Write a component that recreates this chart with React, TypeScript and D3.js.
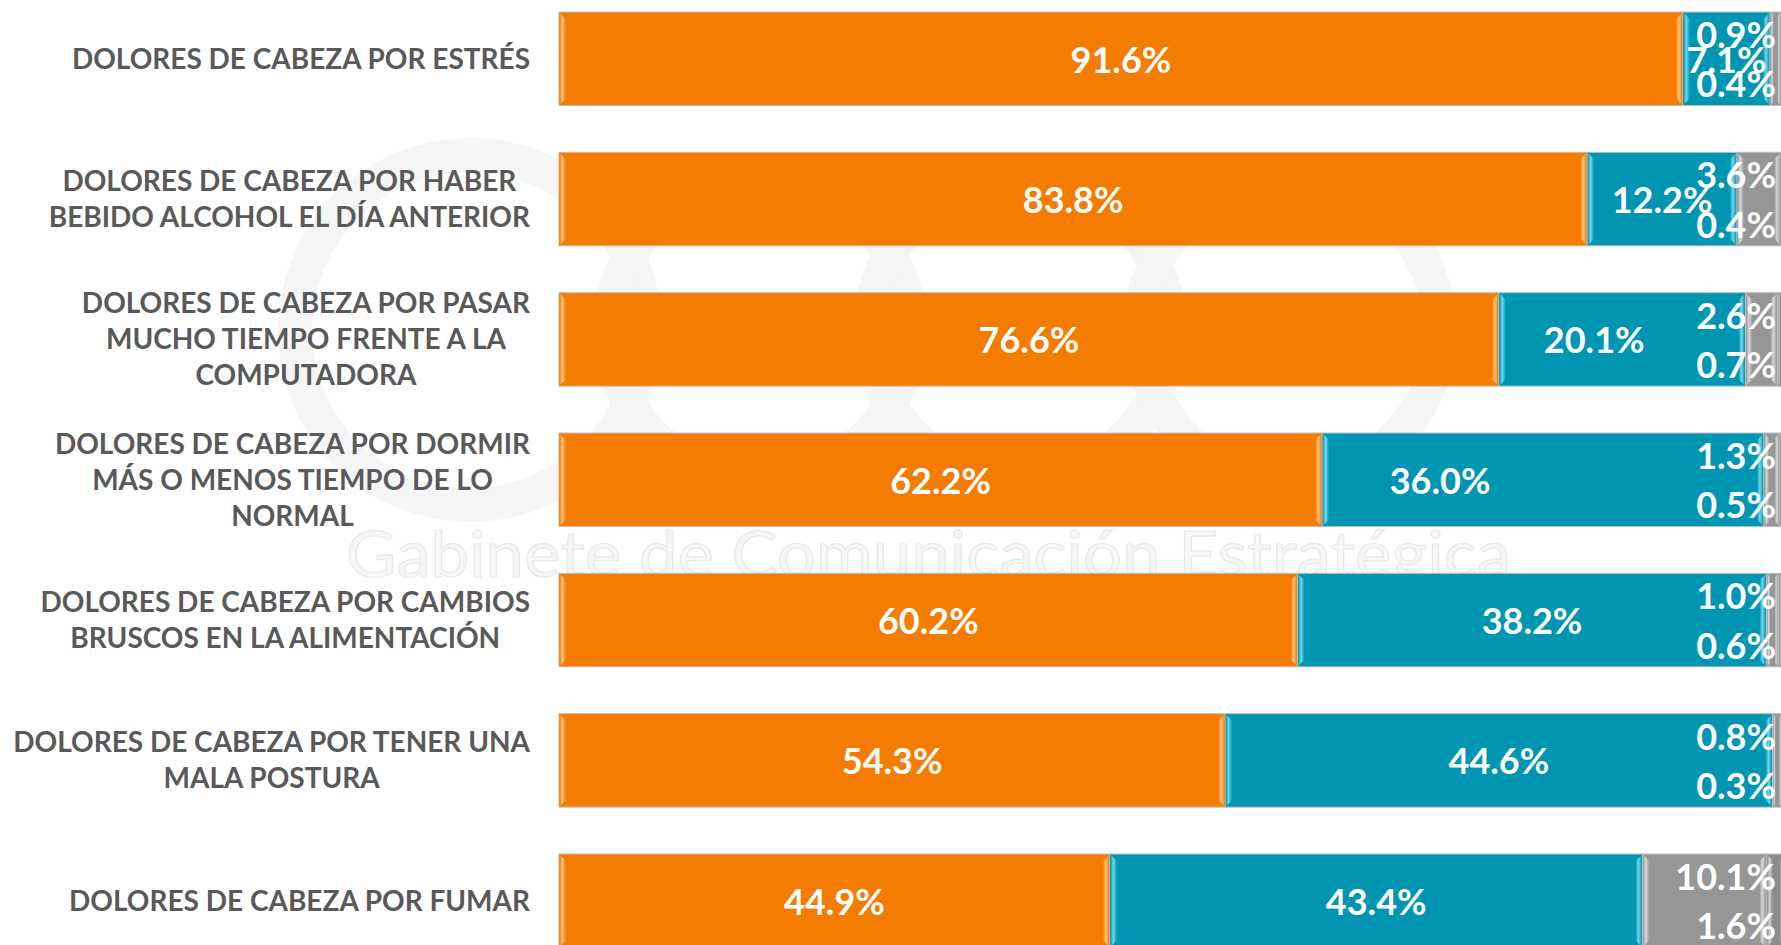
import React, { useEffect, useRef } from "react";
import * as d3 from "d3";

const categoryLines: string[][] = [
  ["DOLORES DE CABEZA POR ESTRÉS"],
  ["DOLORES DE CABEZA POR HABER", "BEBIDO ALCOHOL EL DÍA ANTERIOR"],
  ["DOLORES DE CABEZA POR PASAR", "MUCHO TIEMPO FRENTE A LA", "COMPUTADORA"],
  ["DOLORES DE CABEZA POR DORMIR", "MÁS O MENOS TIEMPO DE LO", "NORMAL"],
  ["DOLORES DE CABEZA POR CAMBIOS", "BRUSCOS EN LA ALIMENTACIÓN"],
  ["DOLORES DE CABEZA POR TENER UNA", "MALA POSTURA"],
  ["DOLORES DE CABEZA POR FUMAR"],
];
const orangeValues = [91.6, 83.8, 76.6, 62.2, 60.2, 54.3, 44.9];
const tealValues = [7.1, 12.2, 20.1, 36.0, 38.2, 44.6, 43.4];
const grayValues = [0.9, 3.6, 2.6, 1.3, 1.0, 0.8, 10.1];
const darkValues = [0.4, 0.4, 0.7, 0.5, 0.6, 0.3, 1.6];
const seriesKeys = ["orange", "teal", "gray", "dark"];
const watermarkText = "Gabinete de Comunicación Estratégica";

const W = 1781;
const H = 945;
const colors: Record<string, { base: string; light: string }> = {
  orange: { base: "#F47C00", light: "#FFC27A" },
  teal: { base: "#0095B1", light: "#6FD6EE" },
  gray: { base: "#969696", light: "#D6D6D6" },
  dark: { base: "#8C8C8C", light: "#CFCFCF" },
};
// manual label nudges (as in the original layout)
const tealNudge: Record<number, number> = { 2: -28, 3: -103 };

export default function App() {
  const ref = useRef<SVGSVGElement | null>(null);

  useEffect(() => {
    const svg = d3.select(ref.current);
    svg.selectAll("*").remove();

    const rows = categoryLines.map((lines, i) => ({
      key: String(i),
      orange: orangeValues[i],
      teal: tealValues[i],
      gray: grayValues[i],
      dark: darkValues[i],
    }));

    const x = d3.scaleLinear().domain([0, 100]).range([559, 1786]);
    const y = d3
      .scaleBand<string>()
      .domain(rows.map((r) => r.key))
      .range([-11.4, 970.9])
      .paddingInner(0.334)
      .paddingOuter(0.167);

    const defs = svg.append("defs");
    seriesKeys.forEach((k) => {
      const gL = defs.append("linearGradient").attr("id", `bl-${k}`).attr("x1", "0").attr("x2", "1");
      gL.append("stop").attr("offset", "0").attr("stop-color", colors[k].base);
      gL.append("stop").attr("offset", "0.45").attr("stop-color", colors[k].light);
      gL.append("stop").attr("offset", "1").attr("stop-color", colors[k].base);
    });

    // watermark
    const wm = svg.append("g");
    [
      [470, 330, 175],
      [760, 330, 150],
      [1020, 330, 150],
      [1290, 330, 150],
    ].forEach(([cx, cy, r]) => {
      wm.append("circle")
        .attr("cx", cx)
        .attr("cy", cy)
        .attr("r", r)
        .attr("fill", "none")
        .attr("stroke", "#f5f5f5")
        .attr("stroke-width", 34);
    });
    wm.append("text")
      .attr("x", 346)
      .attr("y", 577)
      .attr("textLength", 1165)
      .attr("lengthAdjust", "spacingAndGlyphs")
      .attr("font-family", "Lato, 'Open Sans', sans-serif")
      .attr("font-size", 64)
      .attr("fill", "#f7f7f7")
      .attr("stroke", "#e8e8e8")
      .attr("stroke-width", 1.2)
      .text(watermarkText);

    const stack = d3.stack<any>().keys(seriesKeys);
    const series = stack(rows);

    const bars = svg.append("g");
    series.forEach((s) => {
      const k = s.key;
      s.forEach((d, i) => {
        const x0 = x(d[0]);
        const x1 = x(d[1]);
        const top = y(String(i))!;
        const h = y.bandwidth();
        const w = x1 - x0;
        const g = bars.append("g");
        g.append("rect")
          .attr("x", x0)
          .attr("y", top)
          .attr("width", w)
          .attr("height", h)
          .attr("fill", colors[k].base)
          .attr("stroke", "#bdbdbd")
          .attr("stroke-width", 1);
        const b = Math.max(1.5, Math.min(7, w / 3));
        g.append("path")
          .attr(
            "d",
            `M${x0 + 0.5},${top + 0.5} L${x0 + b},${top + b} L${x0 + b},${top + h - b} L${x0 + 0.5},${top + h - 0.5} Z`
          )
          .attr("fill", `url(#bl-${k})`);
        g.append("path")
          .attr(
            "d",
            `M${x1 - 0.5},${top + 0.5} L${x1 - b},${top + b} L${x1 - b},${top + h - b} L${x1 - 0.5},${top + h - 0.5} Z`
          )
          .attr("fill", `url(#bl-${k})`);
      });
    });

    const fmt = (v: number) => v.toFixed(1) + "%";
    const labelFont = "Lato, 'Open Sans', sans-serif";
    const labels = svg
      .append("g")
      .attr("font-family", labelFont)
      .attr("font-weight", 700)
      .attr("font-size", 36)
      .attr("fill", "#ffffff");

    rows.forEach((r, i) => {
      const top = y(r.key)!;
      const h = y.bandwidth();
      const cy = top + h / 2;
      labels.append("text")
        .attr("x", x(r.orange / 2))
        .attr("y", cy + 14)
        .attr("text-anchor", "middle")
        .text(fmt(r.orange));
      labels.append("text")
        .attr("x", x(r.orange + r.teal / 2) + (tealNudge[i] || 0))
        .attr("y", cy + 14)
        .attr("text-anchor", "middle")
        .text(fmt(r.teal));
      labels.append("text")
        .attr("x", 1776)
        .attr("y", top + 36)
        .attr("text-anchor", "end")
        .text(fmt(r.gray));
      labels.append("text")
        .attr("x", 1776)
        .attr("y", top + h - 8)
        .attr("text-anchor", "end")
        .text(fmt(r.dark));
    });

    const cat = svg
      .append("g")
      .attr("font-family", labelFont)
      .attr("font-weight", 700)
      .attr("font-size", 28)
      .attr("fill", "#595959");
    categoryLines.forEach((lines, i) => {
      const cy = y(String(i))! + y.bandwidth() / 2;
      const lh = 36;
      const g = cat.append("g");
      const texts = lines.map((ln, j) =>
        g.append("text")
          .attr("y", cy + (j - (lines.length - 1) / 2) * lh + 10)
          .attr("text-anchor", "middle")
          .text(ln)
      );
      const maxW = d3.max(texts, (t) => (t.node() as SVGTextElement).getComputedTextLength()) || 0;
      const center = 530 - maxW / 2;
      texts.forEach((t) => t.attr("x", center));
    });
  }, []);

  return (
    <svg
      ref={ref}
      width={W}
      height={H}
      style={{ position: "absolute", left: 0, top: 0, background: "#ffffff" }}
    />
  );
}
